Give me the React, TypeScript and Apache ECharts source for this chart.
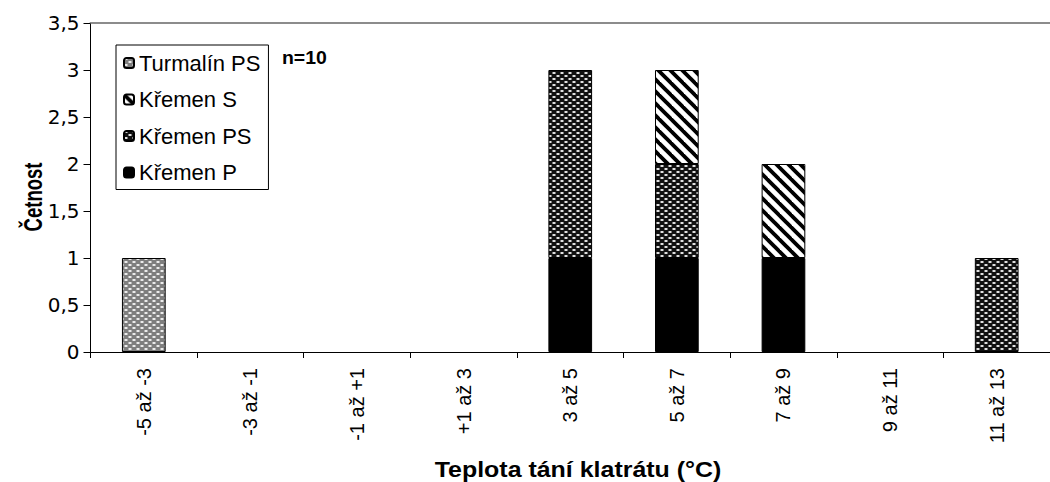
import React, { useEffect, useRef } from "react";
import * as echarts from "echarts";

const categories = ["-5 až -3", "-3 až -1", "-1 až +1", "+1 až 3", "3 až 5", "5 až 7", "7 až 9", "9 až 11", "11 až 13"];
const kremenP = [0, 0, 0, 0, 1, 1, 1, 0, 0];
const kremenPS = [0, 0, 0, 0, 2, 1, 0, 0, 1];
const kremenS = [0, 0, 0, 0, 0, 1, 1, 0, 0];
const turmalinPS = [1, 0, 0, 0, 0, 0, 0, 0, 0];
const legendOrder = ["Turmalín PS", "Křemen S", "Křemen PS", "Křemen P"];
const yTicks = { min: 0, max: 3.5, interval: 0.5 };

function makeCanvas(w: number, h: number, draw: (ctx: CanvasRenderingContext2D) => void) {
  const c = document.createElement("canvas");
  c.width = w;
  c.height = h;
  const ctx = c.getContext("2d")!;
  draw(ctx);
  return c;
}

function dotted(bg: string, mid: string, light: string) {
  return makeCanvas(8, 6, (ctx) => {
    ctx.fillStyle = bg;
    ctx.fillRect(0, 0, 8, 6);
    ctx.fillStyle = mid;
    ctx.fillRect(0, 0, 4, 2);
    ctx.fillRect(4, 3, 4, 2);
    ctx.fillStyle = light;
    ctx.fillRect(1, 0, 2, 2);
    ctx.fillRect(5, 3, 2, 2);
  });
}

function diagonal() {
  return makeCanvas(12, 12, (ctx) => {
    ctx.fillStyle = "#ffffff";
    ctx.fillRect(0, 0, 12, 12);
    ctx.strokeStyle = "#000000";
    ctx.lineWidth = 3.8;
    for (const k of [-12, 0, 12]) {
      ctx.beginPath();
      ctx.moveTo(k - 3, -3);
      ctx.lineTo(k + 15, 15);
      ctx.stroke();
    }
  });
}

export default function App() {
  const ref = useRef<HTMLDivElement>(null);
  useEffect(() => {
    if (!ref.current) return;
    const chart = echarts.init(ref.current, null, { renderer: "svg" });
    const pat = (c: HTMLCanvasElement) => ({ image: c, repetition: "repeat" } as any);
    const turmPat = pat(dotted("#7f7f7f", "#b4b4b4", "#ececec"));
    const psPat = pat(dotted("#111111", "#777777", "#e0e0e0"));
    const sPat = pat(diagonal());
    const font = "'Liberation Sans', Arial, sans-serif";
    const wide = "'DejaVu Sans', sans-serif";
    const nz = (arr: number[]) => arr.map((v) => (v === 0 ? null : v));
    const mk = (name: string, data: number[], color: any) => ({
      name,
      type: "bar",
      stack: "total",
      barWidth: "41%",
      data: nz(data),
      itemStyle: { color, borderColor: "#000", borderWidth: 1 },
      emphasis: { disabled: true },
    });
    chart.setOption({
      animation: false,
      textStyle: { fontFamily: font },
      grid: { left: 90.5, right: -10, top: 23, bottom: 130 },
      legend: {
        orient: "vertical",
        left: 116,
        top: 45,
        data: legendOrder,
        itemWidth: 10,
        itemHeight: 10,
        itemGap: 14.5,
        padding: [7, 8, 6, 7],
        borderColor: "#000",
        borderWidth: 1,
        textStyle: { fontSize: 22, color: "#000", fontFamily: font, lineHeight: 22 },
      },
      xAxis: [
        {
          type: "category",
          data: categories,
          boundaryGap: true,
          axisLine: { lineStyle: { color: "#000", width: 1 } },
          axisTick: { show: true, length: 6, interval: 0, lineStyle: { color: "#000" } },
          axisLabel: { rotate: 90, interval: 0, margin: 16, fontSize: 20, color: "#000", fontFamily: font },
        },
        {
          type: "category",
          data: categories,
          position: "top",
          axisLine: { show: true, lineStyle: { color: "#8c8c8c", width: 2 } },
          axisTick: { show: false },
          axisLabel: { show: false },
        },
      ],
      yAxis: {
        type: "value",
        min: yTicks.min,
        max: yTicks.max,
        interval: yTicks.interval,
        axisLine: { show: true, lineStyle: { color: "#000", width: 1 } },
        axisTick: { show: true, length: 7, lineStyle: { color: "#000" } },
        splitLine: { show: false },
        axisLabel: {
          fontSize: 20,
          color: "#000",
          margin: 11,
          fontFamily: wide,
          formatter: (v: number) => String(v).replace(".", ","),
        },
      },
      series: [
        mk("Křemen P", kremenP, "#000000"),
        mk("Křemen PS", kremenPS, psPat),
        mk("Křemen S", kremenS, sPat),
        mk("Turmalín PS", turmalinPS, turmPat),
      ],
      graphic: [
        {
          type: "text",
          x: 282,
          y: 58,
          scaleX: 1.08,
          style: { text: "n=10", font: `bold 18px ${font}`, fill: "#000", textVerticalAlign: "middle" },
        },
        {
          type: "text",
          x: 578,
          y: 469,
          scaleX: 1.085,
          style: {
            text: "Teplota tání klatrátu (°C)",
            font: `bold 23px ${font}`,
            fill: "#000",
            textAlign: "center",
            textVerticalAlign: "middle",
          },
        },
        {
          type: "text",
          x: 33,
          y: 197,
          rotation: Math.PI / 2,
          scaleY: 1.35,
          style: {
            text: "Četnost",
            font: `bold 18.5px ${font}`,
            fill: "#000",
            textAlign: "center",
            textVerticalAlign: "middle",
          },
        },
      ],
    });
    return () => chart.dispose();
  }, []);
  return (
    <div
      ref={ref}
      style={{ position: "absolute", left: 0, top: 0, width: 1050, height: 482, background: "#fff" }}
    />
  );
}
